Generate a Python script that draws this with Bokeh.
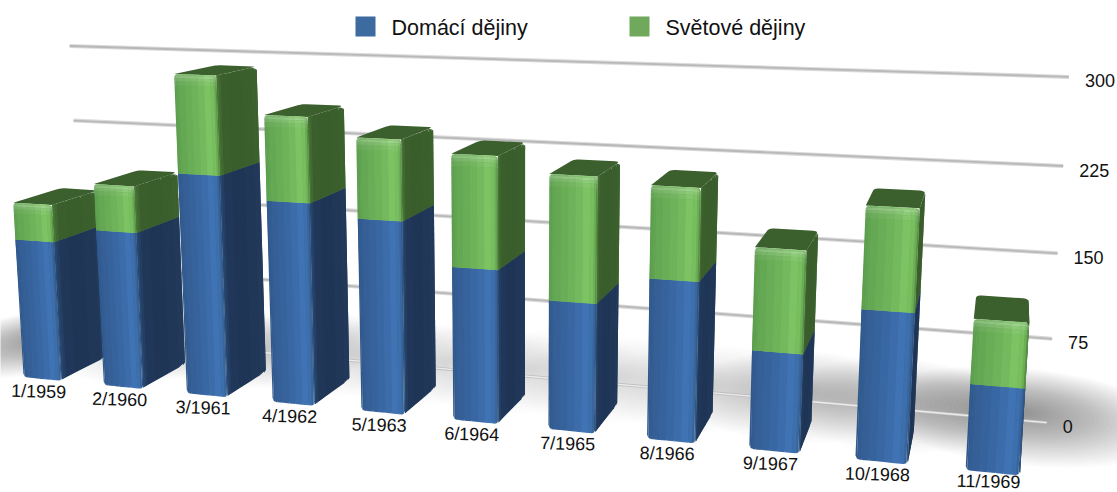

import numpy as np
from bokeh.plotting import figure
from bokeh.embed import file_html
from bokeh.resources import INLINE
from bokeh.core.properties import value

categories = ["1/1959","2/1960","3/1961","4/1962","5/1963","6/1964","7/1965","8/1966","9/1967","10/1968","11/1969"]
domaci = [133,147,204,184,173,136,113,138,84,125,71]
svetove = [35,43,89,76,71,98,108,78,86,84,53]
ticks = [0,75,150,225,300]
series_names = ["Domácí dějiny","Světové dějiny"]

# Perspective camera of the 3D chart: (category, depth, value/100, 1) -> screen/1000
CAMERA = np.array([[0.078308,0.049443,-0.006327,0.002640],
                   [0.001722,-0.005034,-0.105914,0.374634],
                   [-0.016053,0.048597,-0.012211,1.0]])
MARGIN = 0.26      # gap each side of a bar, in category units
WALL = 1.8         # depth of back wall

def proj(u,d,v):
    h = CAMERA @ np.array([u,d,v/100.0,1.0])
    return 1000*h[0]/h[2], 1000*h[1]/h[2]

def hexrgb(c): return np.array([int(c[i:i+2],16) for i in (1,3,5)],float)
def rgbhex(a):
    a=np.clip(a,0,255).round().astype(int); return "#%02x%02x%02x"%tuple(a)
def ramp(stops,t):
    ts=[s[0] for s in stops]; cs=np.array([hexrgb(s[1]) for s in stops])
    return np.array([np.interp(t,ts,cs[:,k]) for k in range(3)])

BLUE_F=[(0,"#2f578a"),(.12,"#345d93"),(.55,"#3a69a6"),(.85,"#4176b8"),(.95,"#38659b"),(1,"#2d4f7c")]
GREEN_F=[(0,"#5a9a4c"),(.12,"#62a652"),(.55,"#70b45a"),(.85,"#80c866"),(.95,"#6cae55"),(1,"#4f8240")]
BLUE_S=[(0,"#2a4a74"),(.12,"#20385b"),(.5,"#1e3454"),(1,"#233a5c")]
GREEN_S=[(0,"#4a7a38"),(.12,"#3b602c"),(.5,"#395c2b"),(1,"#3c622e")]
TOP="#3b602d"

PX,PY,PC=[],[],[]
def add(pts,color):
    PX.append([q[0] for q in pts]); PY.append([q[1] for q in pts]); PC.append(color)

p=figure(width=1117,height=492,x_range=(0,1117),y_range=(492,0),output_backend="svg",
         toolbar_location=None,min_border=0,outline_line_color=None)
p.axis.visible=False; p.grid.visible=False

# shadow on the floor: soft blobs, stronger and pushed outwards at both ends
SX,SY,SA=[],[],[]
ang=np.linspace(0,2*np.pi,44)
n=len(categories)
for i in range(n):
    shift={0:-.85,1:-.3,10:.25}.get(i,0)
    cd={0:1.6,1:1.9}.get(i,2.1)
    ru=1.5 if i==10 else 1.2
    cu=i+.5+shift
    alpha=.0055+.010*(abs(i-5)/5)**4
    for t in np.linspace(1,.05,30):
        pts=[proj(cu+ru*t*np.cos(a),cd+1.8*t*np.sin(a),0) for a in ang]
        SX.append([q[0] for q in pts]); SY.append([q[1] for q in pts]); SA.append(alpha)
p.patches(SX,SY,fill_color="#000000",fill_alpha=SA,line_color=None)

# wall gridlines
GX=[[proj(u,WALL,t)[0] for u in (0,11)] for t in ticks]
GY=[[proj(u,WALL,t)[1] for u in (0,11)] for t in ticks]
p.multi_line(GX[1:],GY[1:],line_color="#dadada",line_width=4)
p.multi_line(GX[1:],GY[1:],line_color="#b8b8b8",line_width=1.8)
p.multi_line(GX[:1],GY[:1],line_color="#bdbdbd",line_width=3)
p.multi_line(GX[:1],GY[:1],line_color="#ececec",line_width=1.4)

def round_off(t,r=.09):
    e=min(t,1-t)
    if e>=r: return 0.0
    return 1-np.sqrt(1-((r-e)/r)**2)

TS=np.array([0,.03,.07,.12,.25,.4,.55,.7,.85,.93,.97,1])
for i,(a,b) in enumerate(zip(domaci,svetove)):
    l,r=i+MARGIN,i+1-MARGIN
    tot=a+b
    # side faces
    ds=[0,.05,.1,.3,.6,.85,.95,1]
    add([proj(r,0,1.5),proj(r,1,3),proj(r,1,a),proj(r,0,a)],"#1f3556")
    add([proj(r,0,a),proj(r,1,a),proj(r,1,tot-3),proj(r,0,tot)],"#3a5e2c")
    for d0,d1 in zip(ds[:-1],ds[1:]):
        m=(d0+d1)/2
        h0=tot-3*max(0,(d0-.9)/.1); h1=tot-3*max(0,(d1-.9)/.1)
        add([proj(r,d0,1.5),proj(r,d1,1.5 if d1<.95 else 3),proj(r,d1,a),proj(r,d0,a)],rgbhex(ramp(BLUE_S,m)))
        add([proj(r,d0,a),proj(r,d1,a),proj(r,d1,h1),proj(r,d0,h0)],rgbhex(ramp(GREEN_S,m)))
    # top: square at the front edge, rounded at the back
    ru,rd=.05,.12
    pts=[proj(l,0,tot),proj(r,0,tot)]
    for cu,cd,start in [(r-ru,1-rd,0),(l+ru,1-rd,90)]:
        for th in np.radians(np.linspace(start,start+90,6)):
            pts.append(proj(cu+ru*np.cos(th),cd+rd*np.sin(th),tot))
    add(pts,TOP)
    # front faces: underlays, then gradient strips
    add([proj(l+.02,0,1),proj(r-.02,0,1),proj(r,0,a),proj(l,0,a)],"#3a68a3")
    add([proj(l,0,a),proj(r,0,a),proj(r-.01,0,tot-1),proj(l+.01,0,tot-1)],"#6eb259")
    for t0,t1 in zip(TS[:-1],TS[1:]):
        m=(t0+t1)/2; u0=l+(r-l)*t0; u1=l+(r-l)*t1
        lo0,lo1=3.5*round_off(t0),3.5*round_off(t1)
        add([proj(u0,0,lo0),proj(u1,0,lo1),proj(u1,0,a),proj(u0,0,a)],rgbhex(ramp(BLUE_F,m)))
        hi0,hi1=tot-2.5*round_off(t0),tot-2.5*round_off(t1)
        base=ramp(GREEN_F,m)
        # rows counted down from the top in value units: thin highlight under the top edge
        rows=[tot,tot-1.5,tot-3.5,tot-6,tot-10,a]
        glows=[.12,.26,.14,.05,0]
        for g,(v1,v0) in zip(glows,zip(rows[:-1],rows[1:])):
            v0=max(v0,a); v1=max(v1,a)
            top0=min(v1,hi0); top1=min(v1,hi1)
            bot0=min(v0,hi0); bot1=min(v0,hi1)
            c=base+g*(255-base)
            add([proj(u0,0,bot0),proj(u1,0,bot1),proj(u1,0,top1),proj(u0,0,top0)],rgbhex(c))
p.patches(PX,PY,fill_color=PC,line_color=None)

F=value("Liberation Sans")
# category labels (lowest one kept inside the page)
cx=[proj(i+.5,0,0)[0]-4 for i in range(n)]
cy=[min(proj(i+.5,0,0)[1]+12.5,481) for i in range(n)]
p.text(cx,cy,text=categories,text_font=F,text_font_size="18px",text_color="#111111",
       text_align="center",text_baseline="middle",angle=-.025)
# value labels
tx=[proj(11,WALL,t)[0]+16 for t in ticks]
ty=[proj(11,WALL,t)[1]+4 for t in ticks]
p.text(tx,ty,text=[str(t) for t in ticks],text_font=F,text_font_size="18px",text_color="#111111",
       text_align="left",text_baseline="middle")
# legend
p.quad(left=[355,629],right=[375,649],top=[16,16],bottom=[36,36],fill_color=["#3d6ba0","#70a85c"],line_color=None)
p.text([391,665],[27,27],text=series_names,text_font=F,text_font_size="21.5px",text_color="#111111",
       text_align="left",text_baseline="middle")
open("out.html","w").write(file_html(p,INLINE))
